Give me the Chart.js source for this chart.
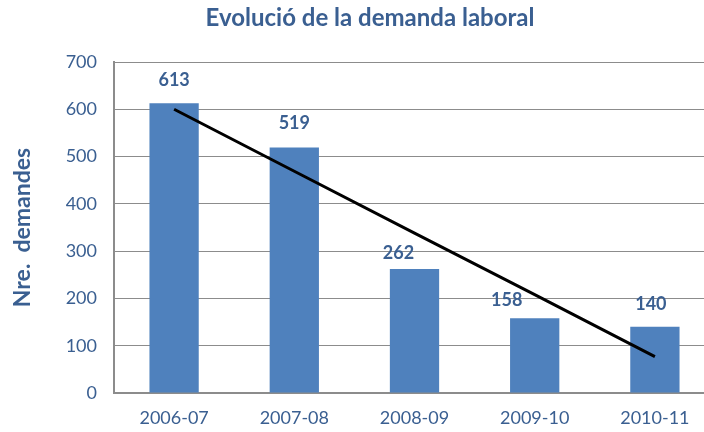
<!DOCTYPE html>
<html>
<head>
<meta charset="utf-8">
<script src="https://cdn.jsdelivr.net/npm/chart.js@4.4.1/dist/chart.umd.min.js"></script>
<style>
    html, body { margin: 0; padding: 0; background: #fff; overflow: hidden; }
    #wrap { width: 720px; height: 432px; }
</style>
</head>
<body>
<div id="wrap"><canvas id="myChart"></canvas></div>
<script>
var cursos = ["2006-07", "2007-08", "2008-09", "2009-10", "2010-11"];
var demandes = [613, 519, 262, 158, 140];
var tendencia = [600, 469, 338, 208, 77];
var yTicks = [0, 100, 200, 300, 400, 500, 600, 700];

var textColor = "#3A5F91";
var gridColor = "#8C8C8C";

// títol i etiquetes de valor damunt de les barres
var barLabels = {
    id: "barLabels",
    afterDatasetsDraw: function(chart) {
        var ctx = chart.ctx;
        var meta = chart.getDatasetMeta(1);
        // etiquetes desplaçades a mà perquè no toquin la línia
        var dx = [0, 0, -16, -28, -4];
        var gap = [23, 24, 16, 18, 23];
        ctx.save();
        ctx.fillStyle = textColor;
        ctx.textAlign = "center";
        ctx.textBaseline = "middle";
        ctx.font = "bold 24px Lato";
        ctx.fillText("Evolució de la demanda laboral", 370, 18);
        ctx.font = "bold 18px Lato";
        meta.data.forEach(function(bar, i) {
            ctx.fillText(demandes[i], bar.x + dx[i], bar.y - gap[i]);
        });
        ctx.restore();
    }
};

var ctx = document.getElementById("myChart").getContext("2d");
var chart = new Chart(ctx, {
    type: "bar",
    data: {
        labels: cursos,
        datasets: [{
                type: "line",
                label: "Tendència",
                data: tendencia,
                borderColor: "#000",
                borderWidth: 3,
                pointRadius: 0,
                fill: false,
                order: 0
            },
            {
                label: "Nre. demandes",
                data: demandes,
                backgroundColor: "#4F81BD",
                barPercentage: 0.41,
                categoryPercentage: 1,
                order: 1
            }
        ]
    },
    options: {
        responsive: true,
        maintainAspectRatio: false,
        animation: false,
        layout: { padding: { top: 62, right: 5, bottom: 0, left: 0 } },
        plugins: {
            legend: { display: false },
            tooltip: { enabled: false },
            title: { display: false }
        },
        scales: {
            x: {
                grid: { display: false, drawTicks: false },
                border: { color: gridColor, width: 2 },
                ticks: {
                    color: textColor,
                    font: { family: "Lato", size: 18 },
                    padding: 14
                },
                afterFit: function(scale) { scale.height = 39; }
            },
            y: {
                min: 0,
                max: 700,
                afterBuildTicks: function(scale) {
                    scale.ticks = yTicks.map(v => ({ value: v }));
                },
                grid: { color: gridColor, lineWidth: 1, drawTicks: false },
                border: { color: gridColor, width: 2 },
                ticks: {
                    color: textColor,
                    font: { family: "Lato", size: 18 },
                    padding: 17
                },
                title: {
                    display: true,
                    text: "Nre.  demandes",
                    color: textColor,
                    font: { family: "Lato", size: 23, weight: "bold" },
                    padding: { top: 9, bottom: 8 }
                },
                afterFit: function(scale) { scale.width = 114; }
            }
        }
    },
    plugins: [barLabels]
});
</script>
</body>
</html>
